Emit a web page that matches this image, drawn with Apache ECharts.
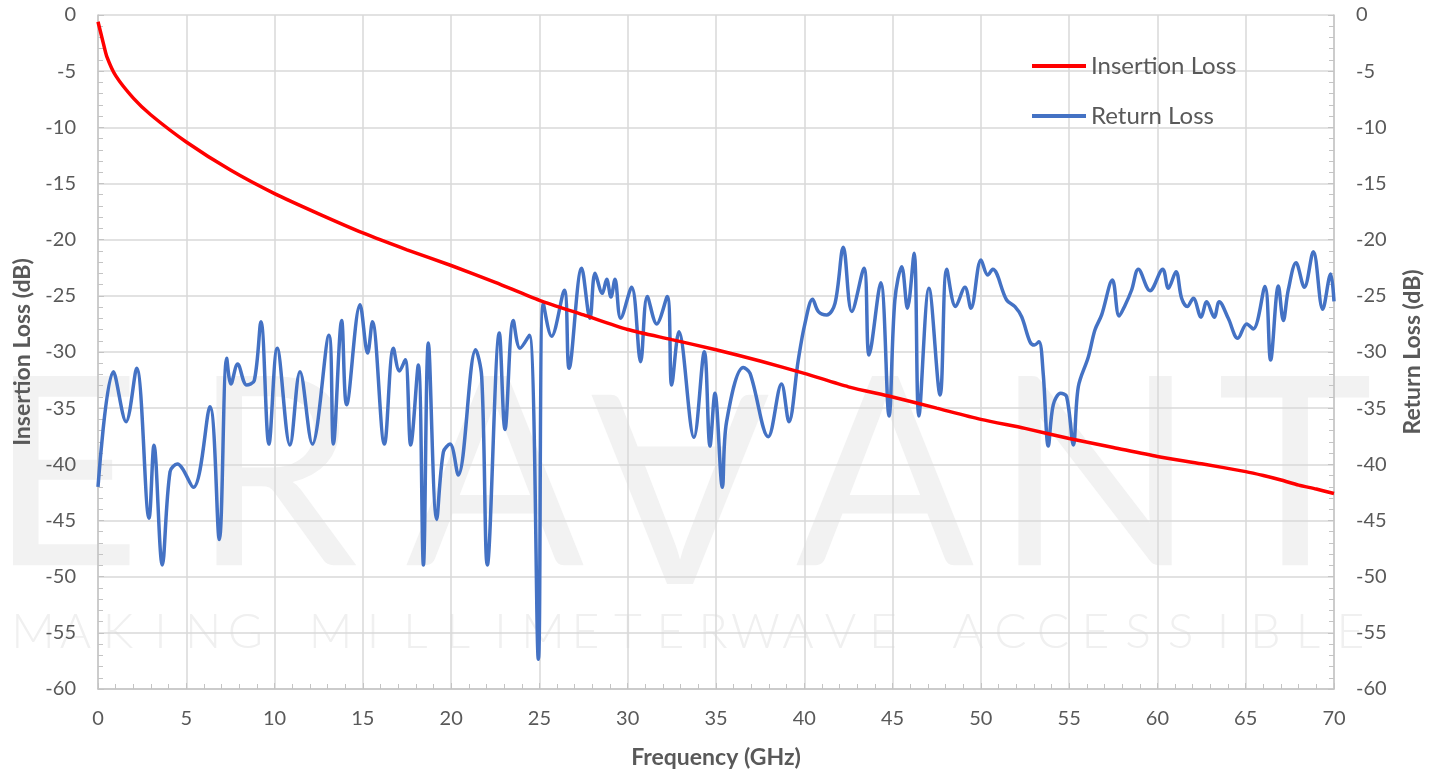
<!DOCTYPE html>
<html>
<head>
<meta charset="utf-8">
<script src="https://cdn.jsdelivr.net/npm/echarts@6/dist/echarts.min.js"></script>
<style>
  html, body { margin: 0; padding: 0; background: #fff; }
  #chart { width: 1441px; height: 776px; }
</style>
</head>
<body>
<div id="chart"></div>
<script>
// Insertion loss (S21), dB vs GHz
const ilFreq = [0, 0.3, 0.5, 1, 2, 3, 5, 7.5, 10, 12.5, 15, 17.5, 20, 22.5, 25, 27.5, 30, 32.5, 35, 37.5, 40, 42.5, 45, 47.5, 50, 52.5, 55, 57.5, 60, 62.5, 65, 66, 67, 68, 69, 70];
const ilVals = [-0.6, -2.5, -3.7, -5.4, -7.4, -8.9, -11.3, -13.8, -15.9, -17.7, -19.4, -20.9, -22.3, -23.8, -25.4, -26.7, -28.0, -28.9, -29.8, -30.8, -31.9, -33.1, -34.0, -35.0, -36.0, -36.8, -37.7, -38.5, -39.3, -39.95, -40.65, -41.0, -41.4, -41.85, -42.2, -42.6];

// Return loss (S11), dB vs GHz
const rlFreq = [0, 0.87, 1.59, 2.19, 2.89, 3.17, 3.64, 4.08, 4.49, 5.4, 6.34, 6.87, 7.29, 7.53, 7.91, 8.42, 8.85, 9.23, 9.68, 10.15,
  10.87, 11.44, 12.14, 13.08, 13.33, 13.8, 14.08, 14.84, 15.27, 15.54, 16.22, 16.73, 17.07, 17.4, 17.71, 18.14, 18.43, 18.71, 19.18, 19.56,
  19.94, 20.4, 21.39, 21.73, 22.05, 22.73, 23.05, 23.52, 23.9, 24.43, 24.94, 25.22, 25.69, 26.41, 26.68, 27.39, 27.86, 28.15, 28.56, 28.81,
  29.05, 29.28, 29.6, 30.22, 30.73, 31.11, 31.64, 32.24, 32.49, 32.9, 33.75, 34.34, 34.66, 34.94, 35.36, 35.6, 36.55, 36.93, 37.96, 38.71,
  39.13, 39.66, 40.04, 40.47, 40.8, 41.27, 41.74, 42.21, 42.69, 43.38, 43.67, 44.33, 44.8, 45.13, 45.52, 45.84, 46.22, 46.49, 47.06, 47.69,
  48.07, 48.57, 49.1, 49.44, 50.01, 50.39, 50.67, 51.46, 51.93, 52.31, 52.78, 53.03, 53.29, 53.53, 53.82, 54.1, 54.52, 54.86, 55.24, 55.52,
  56.09, 56.46, 56.84, 57.45, 57.83, 58.15, 58.54, 58.92, 59.58, 60.3, 60.62, 61.05, 61.37, 61.69, 62.03, 62.47, 62.79, 63.22, 63.5, 64.01,
  64.55, 65.06, 65.43, 66.09, 66.41, 66.85, 67.13, 67.41, 67.85, 68.32, 68.83, 69.36, 69.81, 70];
const rlVals = [-42.0, -31.75, -36.2, -31.45, -44.8, -38.3, -48.96, -40.65, -39.97, -42.05, -34.87, -46.7, -30.56, -32.85, -31.07, -32.94, -32.55, -27.3, -38.2, -29.67,
  -38.28, -31.75, -38.2, -28.5, -38.2, -27.2, -34.7, -25.8, -30.1, -27.3, -38.2, -29.67, -31.7, -30.7, -38.28, -31.16, -48.96, -29.2, -44.9, -38.9,
  -38.2, -40.95, -29.8, -32.2, -48.96, -28.3, -36.9, -27.2, -29.67, -28.5, -57.36, -25.67, -28.6, -24.5, -31.45, -22.55, -27.0, -23.0, -24.78, -23.53,
  -25.1, -23.53, -27.0, -24.24, -30.86, -25.07, -27.5, -25.07, -32.94, -28.2, -37.6, -29.97, -38.37, -33.68, -42.05, -36.2, -31.37, -31.9, -37.54, -32.85,
  -36.2, -30.71, -27.45, -25.3, -26.4, -26.7, -25.67, -20.68, -26.4, -22.55, -30.27, -23.83, -35.7, -25.37, -22.4, -26.1, -21.2, -35.7, -24.33, -33.83,
  -22.64, -25.96, -24.24, -26.1, -21.8, -23.15, -22.64, -25.37, -25.96, -26.86, -29.08, -29.38, -29.08, -31.9, -38.37, -34.7, -33.68, -33.98, -38.28, -33.09,
  -30.42, -28.04, -26.7, -23.6, -26.8, -25.9, -24.48, -22.64, -24.54, -22.64, -24.33, -22.85, -25.22, -25.96, -25.22, -26.9, -25.52, -26.9, -25.52, -27.0,
  -28.78, -27.5, -27.95, -24.18, -30.71, -24.12, -27.2, -24.48, -22.05, -24.24, -21.07, -26.2, -23.06, -25.5];

const seriesNames = ["Insertion Loss", "Return Loss"];
const logoWord = ["E", "R", "A", "A", "A", "N", "T"];
const tagline = "MAKING MILLIMETERWAVE ACCESSIBLE";

const font = "Lato, 'Open Sans', sans-serif";
const textGrey = "#595959";
const gridGrey = "#d9d9d9";
const axisGrey = "#c4c4c4";

const chart = echarts.init(document.getElementById("chart"));

// watermark (drawn behind the grid)
const logoX = [65, 275, 495, 680, 885, 1095, 1295];
const marks = logoWord.map((ch, i) => ({
  type: "text",
  z: -10,
  x: logoX[i],
  y: 480,
  rotation: i === 3 ? Math.PI : 0,
  style: {
    text: ch, font: "normal 264px " + font, fill: "#f2f2f2",
    textAlign: "center", textVerticalAlign: "middle"
  }
}));
tagline.split("").forEach((ch, i) => {
  if (ch === " ") return;
  marks.push({
    type: "text",
    z: -10,
    x: 33 + i * 42.5,
    y: 633,
    style: {
      text: ch, font: "300 48px " + font, fill: "#f0f0f0",
      textAlign: "center", textVerticalAlign: "middle"
    }
  });
});

const yAxisBase = (pos) => ({
  type: "value",
  position: pos,
  min: -60,
  max: 0,
  interval: 5,
  nameLocation: "middle",
  nameRotate: 90,
  nameTextStyle: { fontFamily: font, fontSize: 23, fontWeight: "bold", color: textGrey },
  axisLine: { show: true, lineStyle: { color: axisGrey, width: 1.5 } },
  axisTick: { show: true, inside: true, length: 6, lineStyle: { color: axisGrey } },
  minorTick: { show: true, splitNumber: 5, length: 5, lineStyle: { color: axisGrey } },
  axisLabel: { fontFamily: font, fontSize: 20, color: textGrey, margin: 22 },
  splitLine: { show: pos === "left", lineStyle: { color: gridGrey, width: 1.5 } }
});

const option = {
  animation: false,
  backgroundColor: "#fff",
  graphic: marks,
  grid: { left: 98, right: 107, top: 15, bottom: 87 },
  legend: {
    orient: "vertical",
    left: 1027,
    top: 49,
    itemWidth: 54,
    itemHeight: 4,
    itemGap: 26,
    icon: "rect",
    textStyle: { fontFamily: font, fontSize: 24, color: textGrey, lineHeight: 24, padding: [0, 0, 0, 0] },
    data: seriesNames
  },
  xAxis: {
    type: "value",
    min: 0,
    max: 70,
    interval: 5,
    name: "Frequency (GHz)",
    nameLocation: "middle",
    nameGap: 57,
    nameTextStyle: { fontFamily: font, fontSize: 23, fontWeight: "bold", color: textGrey },
    axisLine: { onZero: false, lineStyle: { color: axisGrey, width: 1.5 } },
    axisTick: { inside: true, length: 6, lineStyle: { color: axisGrey } },
    minorTick: { show: true, splitNumber: 5, length: 5, lineStyle: { color: axisGrey } },
    axisLabel: { fontFamily: font, fontSize: 20, color: textGrey, margin: 20 },
    splitLine: { show: true, lineStyle: { color: gridGrey, width: 1.5 } }
  },
  yAxis: [
    Object.assign(yAxisBase("left"), { name: "Insertion Loss (dB)", nameGap: 64 }),
    Object.assign(yAxisBase("right"), { name: "Return Loss (dB)", nameGap: 67 })
  ],
  series: [
    {
      name: seriesNames[0],
      type: "line",
      yAxisIndex: 0,
      smooth: 0.25,
      symbol: "none",
      color: "#ff0000",
      lineStyle: { width: 3.5, color: "#ff0000" },
      z: 3,
      data: ilFreq.map((f, i) => [f, ilVals[i]])
    },
    {
      name: seriesNames[1],
      type: "line",
      yAxisIndex: 1,
      smooth: 0.35,
      symbol: "none",
      color: "#4472c4",
      lineStyle: { width: 3.5, color: "#4472c4" },
      z: 2,
      data: rlFreq.map((f, i) => [f, rlVals[i]])
    }
  ]
};

chart.setOption(option);
window.addEventListener("resize", () => {
  chart && chart.resize();
});
</script>
</body>
</html>
